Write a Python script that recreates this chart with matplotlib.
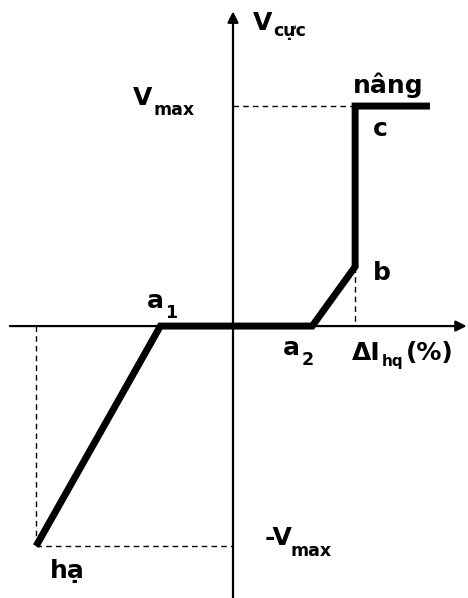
import matplotlib.pyplot as plt

# characteristic curve (x: relative current deviation, y: V / Vmax)
curve_x = [-0.895, -0.33, 0.36, 0.555, 0.555, 0.895]
curve_y = [-1.0, 0.0, 0.0, 0.27, 1.0, 1.0]
v_max = 1.0
x_ha = curve_x[0]
x_b, y_b = curve_x[3], curve_y[3]
x_c = curve_x[4]

plt.rcParams['font.family'] = ['DejaVu Sans']

fig = plt.figure(figsize=(4.68, 5.98), dpi=100)
ax = fig.add_axes([0, 0, 1, 1])
ax.set_xlim(-1.059, 1.068)
ax.set_ylim(-1.236, 1.482)
ax.axis('off')

# axes with arrows
ax.annotate('', xy=(1.062, 0), xytext=(-1.014, 0),
            arrowprops=dict(arrowstyle='-|>', lw=1.6, color='black', mutation_scale=16,
                            shrinkA=0, shrinkB=0))
ax.annotate('', xy=(0, 1.43), xytext=(0, -1.24),
            arrowprops=dict(arrowstyle='-|>', lw=1.6, color='black', mutation_scale=16,
                            shrinkA=0, shrinkB=0))

# dashed guides
dash = dict(color='black', lw=1.0, ls=(0, (4, 3)))
ax.plot([x_ha, x_ha], [0, -v_max], **dash)
ax.plot([x_ha, 0], [-v_max, -v_max], **dash)
ax.plot([0, x_c], [v_max, v_max], **dash)
ax.plot([x_b, x_b], [y_b, 0], **dash)

# thick characteristic
ax.plot(curve_x, curve_y, color='black', lw=5, solid_joinstyle='miter', solid_capstyle='butt')

big = dict(fontsize=18, fontweight='bold', va='baseline', ha='left')
small = dict(fontsize=12.5, fontweight='bold', va='baseline', ha='left')

ax.text(0.091, 1.345, 'V', **big)
ax.text(0.185, 1.318, 'cực', **small)
ax.text(-0.455, 1.004, 'V', **big)
ax.text(-0.36, 0.959, 'max', **small)
ax.text(0.545, 1.059, 'nâng', **big)
ax.text(0.636, 0.864, 'c', **big)
ax.text(0.636, 0.209, 'b', **big)
ax.text(-0.391, 0.082, 'a', **big)
ax.text(-0.31, 0.036, '1', **small)
ax.text(0.227, -0.132, 'a', **big)
ax.text(0.31, -0.177, '2', **small)
ax.text(0.54, -0.155, 'ΔI', **big)
ax.text(0.678, -0.182, 'hq', fontsize=11, fontweight='bold', va='baseline', ha='left')
ax.text(0.785, -0.155, '(%)', **big)
ax.text(0.145, -0.995, '-V', **big)
ax.text(0.26, -1.045, 'max', **small)
ax.text(-0.832, -1.145, 'hạ', **big)

fig.savefig('out.png', dpi=100)
